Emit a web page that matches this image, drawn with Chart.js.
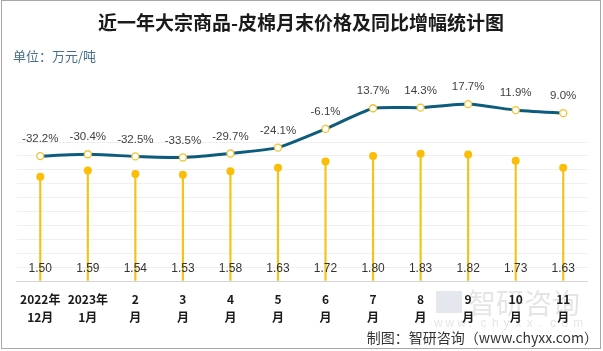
<!DOCTYPE html>
<html>
<head>
<meta charset="utf-8">
<script src="https://cdn.jsdelivr.net/npm/chart.js@4/dist/chart.umd.min.js"></script>
<style>
html,body{margin:0;padding:0;background:#fff;}
#wrap{position:relative;width:603px;height:351px;}
</style>
</head>
<body>
<div id="wrap"><canvas id="c" width="603" height="351"></canvas></div>
<script>
const categories = [['2022年','12月'],['2023年','1月'],['2','月'],['3','月'],['4','月'],['5','月'],['6','月'],['7','月'],['8','月'],['9','月'],['10','月'],['11','月']];
const prices = [1.50,1.59,1.54,1.53,1.58,1.63,1.72,1.80,1.83,1.82,1.73,1.63];
const yoyGrowth = [-32.2,-30.4,-32.5,-33.5,-29.7,-24.1,-6.1,13.7,14.3,17.7,11.9,9.0];
const titleText = '近一年大宗商品-皮棉月末价格及同比增幅统计图';
const unitText = '单位：万元/吨';
const sourceText = '制图：智研咨询（www.chyxx.com）';

const CJK = '"Noto Sans CJK SC", "Noto Sans", sans-serif';
const NUM = '"Liberation Sans", Arial, sans-serif';

const decor = {
  id: 'decor',
  beforeDraw(chart) {
    const ctx = chart.ctx;
    ctx.save();
    ctx.fillStyle = '#fff';
    ctx.fillRect(0, 0, chart.width, chart.height);
    // watermark
    ctx.fillStyle = 'rgba(150,150,150,0.25)';
    ctx.font = '28px ' + CJK;
    ctx.textAlign = 'left';
    ctx.textBaseline = 'middle';
    ctx.fillText('智研咨询', 468, 303);
    ctx.fillStyle = 'rgba(120,140,170,0.2)';
    ctx.fillRect(436, 291, 26, 22);
    ctx.fillStyle = 'rgba(150,150,150,0.25)';
    ctx.font = '12px ' + NUM;
    const wm = 'www.chyxx.com'.split('');
    wm.forEach((ch, i) => ctx.fillText(ch, 434 + i * 11.6, 324));
    ctx.restore();
  },
  afterDraw(chart) {
    const ctx = chart.ctx;
    ctx.save();
    ctx.fillStyle = '#1a1a1a';
    ctx.font = 'bold 19px ' + CJK;
    ctx.textAlign = 'center';
    ctx.textBaseline = 'middle';
    ctx.fillText(titleText, 301, 23);
    ctx.fillStyle = '#46708c';
    ctx.font = '13px ' + CJK;
    ctx.textAlign = 'left';
    ctx.fillText(unitText, 13, 56);
    ctx.fillStyle = '#333';
    ctx.font = '14px ' + CJK;
    ctx.textAlign = 'right';
    ctx.fillText(sourceText, 598, 338);
    ctx.strokeStyle = '#a8a8a8';
    ctx.lineWidth = 1;
    ctx.strokeRect(1.5, 0.5, 599, 348);
    ctx.restore();
  },
  afterDatasetsDraw(chart) {
    const ctx = chart.ctx;
    ctx.save();
    ctx.textAlign = 'center';
    ctx.textBaseline = 'middle';
    const lineMeta = chart.getDatasetMeta(2);
    ctx.fillStyle = '#404040';
    ctx.font = '11.5px ' + NUM;
    lineMeta.data.forEach((pt, i) => {
      ctx.fillText(yoyGrowth[i].toFixed(1) + '%', pt.x, pt.y - 17);
    });
    const barMeta = chart.getDatasetMeta(0);
    ctx.fillStyle = '#333';
    ctx.font = '12px ' + NUM;
    barMeta.data.forEach((b, i) => {
      ctx.fillText(prices[i].toFixed(2), b.x, 269);
    });
    ctx.restore();
  }
};

new Chart(document.getElementById('c'), {
  data: {
    labels: categories,
    datasets: [
      {
        type: 'bar', data: prices, yAxisID: 'y', order: 3,
        backgroundColor: '#f5c21a', barThickness: 1.5
      },
      {
        type: 'line', data: prices, yAxisID: 'y', order: 2,
        showLine: false, pointRadius: 4, pointHoverRadius: 4,
        pointBackgroundColor: '#fbbd08', pointBorderWidth: 0, borderColor: '#fbbd08'
      },
      {
        type: 'line', data: yoyGrowth, yAxisID: 'y2', order: 1,
        borderColor: '#0e5c7c', borderWidth: 3, tension: 0.15,
        pointRadius: 3.5, pointBackgroundColor: '#fff',
        pointBorderColor: '#f2c12e', pointBorderWidth: 1.3, clip: false
      }
    ]
  },
  options: {
    responsive: false,
    animation: false,
    devicePixelRatio: 1,
    layout: { padding: { left: 16.5, right: 16, top: 72.5, bottom: 0 } },
    plugins: { legend: { display: false }, tooltip: { enabled: false }, title: { display: false } },
    scales: {
      x: {
        offset: true,
        grid: { display: false, drawTicks: false },
        border: { display: true, color: '#d6d6d6', width: 1 },
        ticks: {
          autoSkip: false, maxRotation: 0, padding: 9,
          color: '#1a1a1a',
          font: { family: CJK, size: 12, weight: 'bold', lineHeight: 1.5 }
        },
        afterFit(s) { s.height = 70; }
      },
      y: {
        position: 'left', min: 0, max: 3.0,
        ticks: { display: false, stepSize: 0.2 },
        border: { display: false },
        grid: {
          drawTicks: false,
          color: (c) => (c.tick && c.tick.value > 0.01 && c.tick.value <= 2.001) ? '#efefef' : 'rgba(0,0,0,0)'
        },
        afterFit(s) { s.width = 0; }
      },
      y2: {
        position: 'right', min: -152, max: 48, display: false
      }
    }
  },
  plugins: [decor]
});
</script>
</body>
</html>
